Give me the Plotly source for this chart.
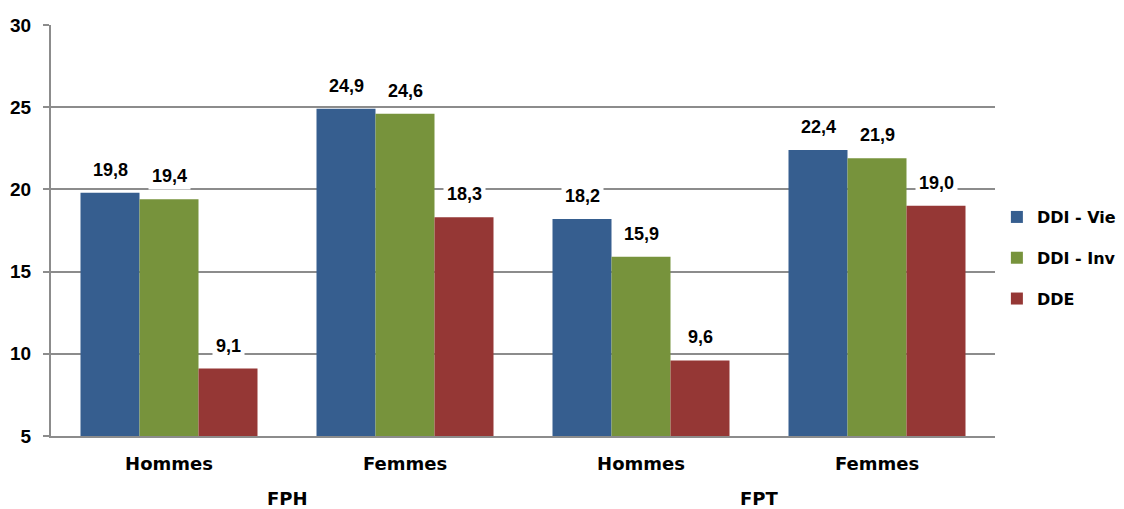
import plotly.graph_objects as go

groups = ["FPH", "FPT"]
sexes = ["Hommes", "Femmes", "Hommes", "Femmes"]
series_names = ["DDI - Vie", "DDI - Inv", "DDE"]
ddi_vie = [19.8, 24.9, 18.2, 22.4]
ddi_inv = [19.4, 24.6, 15.9, 21.9]
dde = [9.1, 18.3, 9.6, 19.0]
colors = ["#365E8F", "#77933C", "#953735"]
y_ticks = [5, 10, 15, 20, 25, 30]

ARIAL = "Liberation Sans, Arial, sans-serif"
WIDE = "DejaVu Sans, Verdana, sans-serif"
xpos = list(range(len(sexes)))
series = [ddi_vie, ddi_inv, dde]

fig = go.Figure()
for i, (name, vals) in enumerate(zip(series_names, series)):
    fig.add_trace(go.Bar(
        x=xpos, y=vals, name=name, marker=dict(color=colors[i], line=dict(width=0)),
        legendgroup=name,
    ))

bar_w = 0.25
annotations = []
for i, vals in enumerate(series):
    off = (i - 1) * bar_w
    for xi, v in zip(xpos, vals):
        annotations.append(dict(
            x=xi + off, y=v, xref="x", yref="y", text=f"{v:.1f}".replace(".", ","),
            showarrow=False, yanchor="bottom", yshift=9,
            font=dict(family=ARIAL, size=18, color="#000000", weight="bold"),
            bgcolor="#ffffff", borderpad=3,
        ))
for gi, g in enumerate(groups):
    annotations.append(dict(
        x=gi * 2 + 0.5, y=-0.152, xref="x", yref="paper", text=g,
        showarrow=False, yanchor="middle",
        font=dict(family=WIDE, size=18, color="#000000", weight="bold"),
    ))

# page body has an 8px margin, so the figure is sized to fit the window
fig.update_layout(
    width=1116, height=501,
    margin=dict(l=43, r=129, t=17, b=73, autoexpand=False),
    plot_bgcolor="#ffffff", paper_bgcolor="#ffffff",
    barmode="group", bargap=0.25, bargroupgap=0,
    font=dict(family=ARIAL, size=18, color="#000000"),
    annotations=annotations,
    legend=dict(
        x=1.002, y=0.433, xanchor="left", yanchor="middle",
        font=dict(family=WIDE, size=16, color="#000000", weight="bold"),
        traceorder="grouped", tracegroupgap=17,
        itemwidth=30,
    ),
    xaxis=dict(
        tickmode="array", tickvals=xpos, ticktext=sexes,
        range=[-0.5, len(sexes) - 0.5],
        showline=True, linecolor="#8C8C8C", linewidth=2,
        showgrid=False, zeroline=False, ticks="", ticklabelstandoff=10,
        tickfont=dict(family=WIDE, size=18, color="#000000", weight="bold"),
    ),
    yaxis=dict(
        range=[5, 30], tickvals=y_ticks,
        showgrid=True, gridcolor="#8C8C8C", gridwidth=2,
        showline=True, linecolor="#8C8C8C", linewidth=2,
        ticks="outside", ticklen=6, tickcolor="#8C8C8C", tickwidth=2,
        zeroline=False, ticklabelstandoff=8,
        tickfont=dict(family=ARIAL, size=19, color="#000000", weight="bold"),
    ),
)

fig.write_html("out.html")
